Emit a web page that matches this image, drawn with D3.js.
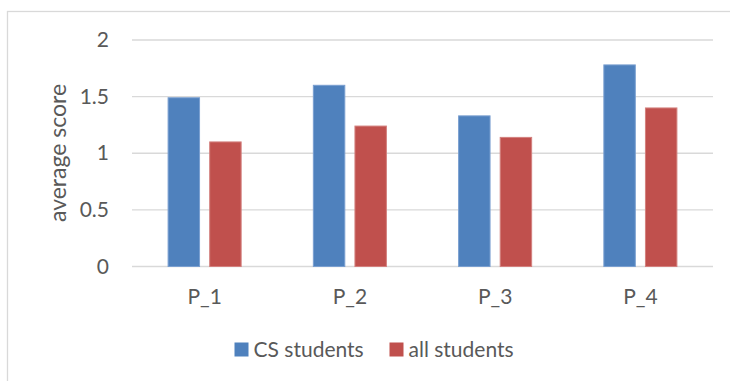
<!DOCTYPE html>
<html>
<head>
<meta charset="utf-8">
<script src="https://cdn.jsdelivr.net/npm/d3@7/dist/d3.min.js"></script>
<style>
  html, body { margin: 0; padding: 0; background: #fff; }
  svg text { font-family: Lato, "Open Sans", sans-serif; fill: #595959; }
</style>
</head>
<body>
<svg id="chart" width="730" height="381"></svg>
<script>
// Average scores per problem for two student groups
const categories = ["P_1", "P_2", "P_3", "P_4"];
const seriesNames = ["CS students", "all students"];
const csStudents = [1.49, 1.60, 1.33, 1.78];
const allStudents = [1.10, 1.24, 1.14, 1.40];
const yTicks = [0, 0.5, 1, 1.5, 2];
const colors = ["#4f81bd", "#c0504d"];
const strokes = ["#7a9fd0", "#d3807e"];

const svg = d3.select("#chart");
const plot = { left: 132, right: 713, top: 40, bottom: 266.5 };
const FONT = "Lato, 'Open Sans', sans-serif";

// chart frame
svg.append("rect")
  .attr("x", 7.5).attr("y", 11.5)
  .attr("width", 730).attr("height", 400)
  .attr("fill", "none").attr("stroke", "#d9d9d9").attr("stroke-width", 1.3);

const x = d3.scaleBand().domain(categories)
  .range([plot.left, plot.right]).paddingInner(0).paddingOuter(0);
const x1 = d3.scaleBand().domain(seriesNames)
  .range([35.6, x.bandwidth() - 35.6]).paddingInner(0.22);
const y = d3.scaleLinear().domain([0, 2]).range([plot.bottom, plot.top]);

// gridlines
svg.append("g").selectAll("line").data(yTicks).join("line")
  .attr("x1", plot.left).attr("x2", plot.right)
  .attr("y1", d => y(d)).attr("y2", d => y(d))
  .attr("stroke", "#d9d9d9").attr("stroke-width", 1.3);

// y axis labels
const yAxis = d3.axisLeft(y).tickValues(yTicks).tickSize(0).tickPadding(0)
  .tickFormat(d3.format("~g"));
const gy = svg.append("g").attr("transform", "translate(109,0)").call(yAxis);
gy.select(".domain").remove();
gy.selectAll("text").attr("font-size", 21).style("fill", "#595959")
  .style("font-family", FONT);

// x axis labels
const xAxis = d3.axisBottom(x).tickSize(0).tickPadding(0);
const gx = svg.append("g").attr("transform", `translate(0,${plot.bottom})`).call(xAxis);
gx.select(".domain").remove();
gx.selectAll("text").attr("font-size", 21).attr("dy", null).attr("y", 37)
  .style("fill", "#595959").style("font-family", FONT);

// y axis title
svg.append("text")
  .attr("transform", "translate(66,153) rotate(-90)")
  .attr("text-anchor", "middle")
  .attr("font-size", 23)
  .text("average score");

// bars
const rows = categories.map((c, i) => ({ cat: c, vals: [csStudents[i], allStudents[i]] }));
const groups = svg.append("g").selectAll("g").data(rows).join("g")
  .attr("transform", d => `translate(${x(d.cat)},0)`);
groups.selectAll("rect")
  .data(d => d.vals.map((v, j) => ({ name: seriesNames[j], v, j })))
  .join("rect")
  .attr("x", d => x1(d.name) + 0.5)
  .attr("width", x1.bandwidth() - 1)
  .attr("y", d => y(d.v))
  .attr("height", d => y(0) - y(d.v))
  .attr("fill", d => colors[d.j])
  .attr("stroke", d => strokes[d.j])
  .attr("stroke-width", 1);

// legend
const legendItems = [{ name: seriesNames[0], x: 234.5 }, { name: seriesNames[1], x: 389.5 }];
const lg = svg.append("g").selectAll("g").data(legendItems).join("g")
  .attr("transform", d => `translate(${d.x},342.5)`);
lg.append("rect").attr("width", 14).attr("height", 14)
  .attr("fill", (d, i) => colors[i]);
lg.append("text").attr("x", 19).attr("y", 14)
  .attr("font-size", 21).text(d => d.name);
</script>
</body>
</html>
